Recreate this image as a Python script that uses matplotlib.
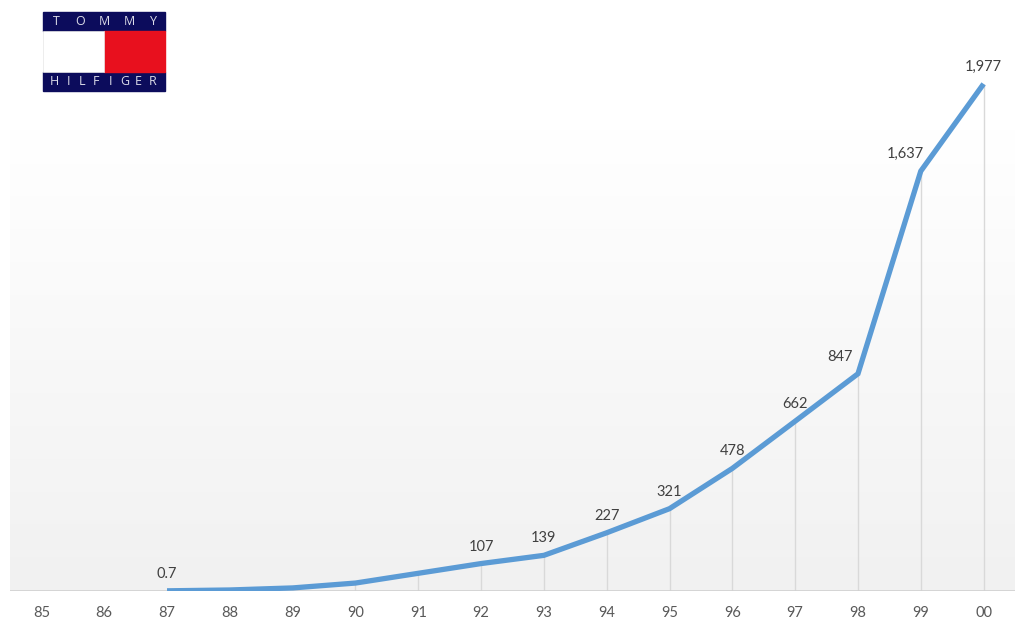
import numpy as np
import matplotlib
matplotlib.use("Agg")
from matplotlib import pyplot as plt
from matplotlib.patches import Rectangle

years = ["85", "86", "87", "88", "89", "90", "91", "92", "93", "94", "95", "96", "97", "98", "99", "00"]
sales = [None, None, 0.7, 4, 12, 31, 69, 107, 139, 227, 321, 478, 662, 847, 1637, 1977]
label_text = {2: "0.7", 7: "107", 8: "139", 9: "227", 10: "321", 11: "478",
              12: "662", 13: "847", 14: "1,637", 15: "1,977"}

plt.rcParams["font.family"] = ["Lato", "DejaVu Sans"]

fig = plt.figure(figsize=(10.24, 6.35), dpi=100)
ax = fig.add_axes([10 / 1024, 44 / 635, 1005 / 1024, 591 / 635])

x_all = np.arange(len(years))
idx = [i for i, v in enumerate(sales) if v is not None]
xs = x_all[idx]
ys = np.array([sales[i] for i in idx], dtype=float)

ytop = 591 / 0.2565
ax.set_xlim(-0.5, len(years) - 0.5)
ax.set_ylim(0, ytop)

# soft background gradient: white on top, light grey at the bottom
grad = np.linspace(0, 1, 256).reshape(-1, 1)
grad = np.clip(grad / 0.78, 0, 1)
cols = np.zeros((256, 1, 3))
lo, hi = 0xf1 / 255, 1.0
cols[:, 0, :] = (lo + (hi - lo) * grad)
ax.imshow(cols, extent=[-0.5, len(years) - 0.5, 0, ytop], origin="lower",
          aspect="auto", zorder=0)

# drop lines
ax.vlines(xs, 0, ys, color="#d9d9d9", lw=1, zorder=1)
ax.axhline(0, color="#d0d0d0", lw=1.2, zorder=2)

ax.plot(xs, ys, color="#5b9bd5", lw=3.8, solid_capstyle="butt",
        solid_joinstyle="miter", zorder=3)

shift = {13: -0.28, 14: -0.24}
for i, t in label_text.items():
    ax.annotate(t, (x_all[i], sales[i]), xytext=(shift.get(i, 0) * 62.9, 10),
                textcoords="offset pixels",
                ha="center", va="bottom", fontsize=10.5, color="#404040", zorder=4)

ax.set_xticks(x_all)
ax.set_xticklabels(years, fontsize=10.5, color="#595959")
ax.tick_params(axis="x", length=0, pad=11)
ax.set_yticks([])
for s in ax.spines.values():
    s.set_visible(False)

# logo
def fx(px):
    return px / 1024
def fy(py):
    return 1 - py / 635

navy = "#0c0c5c"
fig.patches.append(Rectangle((fx(43), fy(31)), fx(122), 19 / 635, transform=fig.transFigure,
                             color=navy, zorder=5))
fig.patches.append(Rectangle((fx(43), fy(91)), fx(122), 19 / 635, transform=fig.transFigure,
                             color=navy, zorder=5))
fig.patches.append(Rectangle((fx(104), fy(72)), fx(61), 41 / 635, transform=fig.transFigure,
                             color="#e8101e", zorder=5))
fig.patches.append(Rectangle((fx(43), fy(72)), fx(61), 41 / 635, transform=fig.transFigure,
                             facecolor="white", edgecolor="#e6e6e6", lw=0.5, zorder=5))
for j, ch in enumerate("TOMMY"):
    fig.text(fx(56 + j * 24.3), fy(21.5), ch, color="#dcdce8", fontsize=9,
             ha="center", va="center", zorder=6, family="Open Sans")
for j, ch in enumerate("HILFIGER"):
    fig.text(fx(54 + j * 14.1), fy(81.5), ch, color="#dcdce8", fontsize=9,
             ha="center", va="center", zorder=6, family="Open Sans")

fig.savefig("out.png", dpi=100)
